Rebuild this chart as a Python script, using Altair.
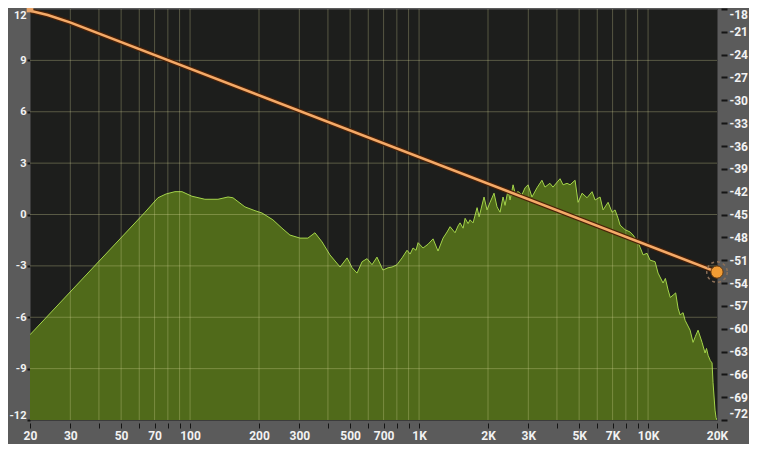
import altair as alt
import pandas as pd

# Spectrum analyser curve (frequency in Hz, level in dB, right axis)
spec_freq = [20, 63.6, 72.4, 78.6, 85.9, 92.2, 101.9, 116.1, 132.4, 146.5,
             153.9, 173.6, 192.1, 206, 230, 252, 273, 302, 327, 351,
             377, 408, 452, 485, 510, 536, 564, 593, 623, 655,
             695, 732, 762, 801, 843, 886, 914, 941, 970, 990,
             1041, 1095, 1151, 1210, 1273, 1325, 1366, 1436, 1480, 1510,
             1557, 1589, 1637, 1670, 1721, 1792, 1829, 1922, 1981, 2042,
             2125, 2190, 2258, 2327, 2374, 2447, 2497, 2574, 2626, 2706,
             2815, 2902, 2991, 3112, 3272, 3440, 3546, 3728, 3843, 4127,
             4254, 4429, 4565, 4800, 4948, 5151, 5416, 5695, 5870, 6172,
             6362, 6690, 6963, 7177, 7398, 7549, 7938, 8347, 8604, 9047,
             9229, 9510, 9900, 10203, 10730, 11058, 11627, 11900, 12228, 12500,
             12860, 13200, 13520, 13800, 14220, 14510, 15260, 15720, 16100, 16530,
             17210, 17740, 18000, 18290, 18700, 19030, 19220, 19610, 19810, 20000]
spec_db = [-60.8, -44.7, -42.8, -42.3, -42.0, -42.0, -42.6, -43.0, -43.0, -42.7,
           -42.8, -44.0, -44.5, -44.8, -45.7, -46.8, -47.7, -48.1, -48.1, -47.4,
           -48.6, -50.3, -51.9, -50.7, -52.0, -52.7, -51.2, -50.8, -51.6, -50.6,
           -52.3, -52.0, -51.9, -51.6, -50.7, -49.7, -50.2, -49.4, -49.7, -48.7,
           -49.4, -48.9, -48.2, -49.8, -48.1, -47.3, -46.6, -47.4, -46.5, -46.1,
           -46.8, -45.5, -46.2, -45.7, -46.1, -44.1, -45.3, -42.7, -44.4, -43.4,
           -42.2, -44.0, -44.7, -42.7, -43.8, -41.8, -43.1, -41.1, -42.2, -42.0,
           -42.4, -41.5, -41.1, -42.7, -41.5, -40.5, -41.4, -40.9, -41.4, -40.3,
           -41.1, -40.9, -41.1, -40.5, -43.4, -42.2, -42.8, -42.0, -43.1, -42.7,
           -44.4, -43.4, -44.7, -44.4, -45.5, -46.4, -47.0, -47.3, -47.7, -48.7,
           -49.3, -50.3, -50.1, -51.0, -51.2, -52.7, -54.0, -53.4, -54.9, -55.9,
           -55.6, -55.3, -57.3, -58.2, -57.9, -58.9, -60.2, -61.8, -61.0, -60.2,
           -61.8, -63.2, -62.6, -63.5, -64.2, -64.5, -67.1, -70.7, -71.7, -72.0]

# EQ tilt curve (gain in dB, left axis)
eq_freq = [20, 23.9, 29.9, 20000]
eq_gain = [11.9, 11.65, 11.22, -3.36]

# Band handles
start_freq = [20]
start_gain = [12]
end_freq = [20000]
end_gain = [-3.36]

# Axes
freq_ticks = [20, 30, 40, 50, 60, 70, 80, 90,
              100, 200, 300, 400, 500, 600, 700, 800, 900,
              1000, 2000, 3000, 4000, 5000, 6000, 7000, 8000, 9000,
              10000, 20000]
freq_labels = [20, 30, 50, 70, 100, 200, 300, 500, 700,
               1000, 2000, 3000, 5000, 7000, 10000, 20000]
gain_ticks = [-12, -9, -6, -3, 0, 3, 6, 9, 12]
gain_grid = [-9, -6, -3, 0, 3, 6, 9]
level_ticks = [-72, -69, -66, -63, -60, -57, -54, -51, -48, -45,
               -42, -39, -36, -33, -30, -27, -24, -21, -18]

FONT = "Roboto"
GRID = "#d9d99c"

spec = pd.DataFrame({"freq": spec_freq, "db": spec_db, "base": [-72.0] * len(spec_freq)})
eq = pd.DataFrame({"freq": eq_freq, "gain": eq_gain})
vgrid = pd.DataFrame({"freq": freq_ticks[1:-1]})
hgrid = pd.DataFrame({"gain": gain_grid})
start = pd.DataFrame({"freq": start_freq, "gain": start_gain})
end = pd.DataFrame({"freq": end_freq, "gain": end_gain})

xscale = alt.Scale(type="log", domain=[20, 20000], nice=False)
gscale = alt.Scale(domain=[-12, 12], nice=False, zero=False)
lscale = alt.Scale(domain=[-72, -18], nice=False, zero=False)

label_arr = "[" + ",".join(str(v) for v in freq_labels) + "]"
xaxis = alt.Axis(
    values=freq_ticks, title=None, grid=False, domain=False,
    orient="bottom", offset=3, tickSize=5, tickColor="#151515", tickWidth=1,
    labelColor="#f2f2f2", labelFont=FONT, labelFontSize=12, labelFontWeight="bold",
    labelPadding=2, labelOverlap=False, labelFlush=False, labelBound=False,
    labelExpr=f"indexof({label_arr}, datum.value) >= 0 ? (datum.value >= 1000 ? (datum.value/1000) + 'K' : '' + datum.value) : ''",
)


def X():
    return alt.X("freq:Q", scale=xscale, axis=xaxis)


area = alt.Chart(spec).mark_area(
    color="#506a1a", opacity=1, clip=True,
    line=alt.OverlayMarkDef(color="#a4d44a", strokeWidth=1),
).encode(
    x=X(),
    y=alt.Y("db:Q", scale=lscale, axis=alt.Axis(
        orient="right", values=level_ticks, title=None, grid=False, domain=False,
        offset=4, tickSize=6, tickColor="#151515", tickWidth=2,
        labelColor="#f2f2f2", labelFont=FONT, labelFontSize=12, labelFontWeight="bold",
        labelPadding=2, labelOverlap=False, labelBound=False, labelFlush=True,
        labelExpr="'' + datum.value")),
    y2="base:Q",
)

vlines = alt.Chart(vgrid).mark_rule(color=GRID, opacity=0.3, strokeWidth=1).encode(
    x=X()
)
hlines = alt.Chart(hgrid).mark_rule(color=GRID, opacity=0.32, strokeWidth=1).encode(
    x=alt.value(0), x2=alt.value(687),
    y=alt.Y("gain:Q", scale=gscale, axis=None)
)

eq_shadow = alt.Chart(eq).mark_line(color="#4a2208", strokeWidth=5, clip=True).encode(
    x=X(),
    y=alt.Y("gain:Q", scale=gscale, axis=None),
)
eq_line = alt.Chart(eq).mark_line(color="#f4aa68", strokeWidth=2.6, clip=True).encode(
    x=X(),
    y=alt.Y("gain:Q", scale=gscale, axis=alt.Axis(
        orient="left", values=gain_ticks, title=None, grid=False, domain=False,
        offset=0, tickSize=3, tickColor="#151515", tickWidth=2,
        labelColor="#f2f2f2", labelFont=FONT, labelFontSize=11, labelFontWeight="bold",
        labelPadding=1, labelOverlap=False, labelBound=False, labelFlush=True,
        labelExpr="'' + datum.value")),
)

start_mark = alt.Chart(start).mark_square(color="#e8a468", size=45, opacity=1).encode(
    x=X(),
    y=alt.Y("gain:Q", scale=gscale, axis=None),
)
end_ring = alt.Chart(end).mark_point(
    shape="circle", filled=False, color="#8c7058", size=420, strokeWidth=1.5,
    strokeDash=[3, 3], opacity=1,
).encode(
    x=X(),
    y=alt.Y("gain:Q", scale=gscale, axis=None),
)
end_dot = alt.Chart(end).mark_circle(color="#f19c34", size=150, opacity=1,
                                     stroke="#6a3c10", strokeWidth=1).encode(
    x=X(),
    y=alt.Y("gain:Q", scale=gscale, axis=None),
)

chart = alt.layer(
    area, vlines, hlines, eq_shadow, eq_line, start_mark, end_ring, end_dot
).resolve_scale(y="independent").properties(
    width=687, height=411,
    autosize=alt.AutoSizeParams(type="none"),
    padding={"left": 22, "top": 1, "right": 32, "bottom": 24},
).configure(
    background="#5b5b5b",
).configure_view(
    fill="#1d1e1c", stroke="#3c3c3c", strokeWidth=1,
)

chart.save("out.html", embed_options={"renderer": "svg", "actions": False})
